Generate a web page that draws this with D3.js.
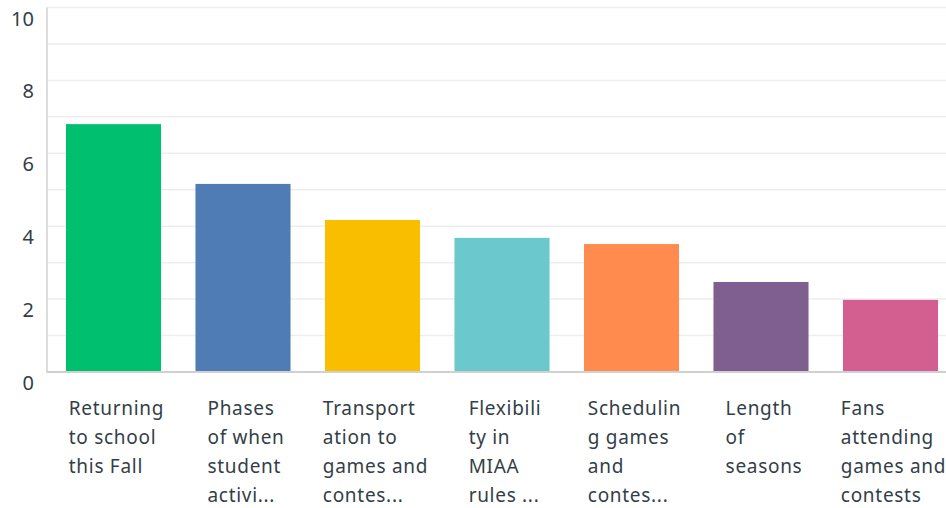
<!DOCTYPE html>
<html>
<head>
<meta charset="utf-8">
<script src="https://cdn.jsdelivr.net/npm/d3@7"></script>
<style>
  body { margin: 0; background: #fff; }
  svg text { font-family: "Noto Sans", "Open Sans", sans-serif; fill: #333e48; }
</style>
</head>
<body>
<svg id="chart" width="946" height="508"></svg>
<script>
// answer choices, in chart order
const categories = [
    'Returning to school this Fall',
    'Phases of when student activities',
    'Transportation to games and contests',
    'Flexibility in MIAA rules',
    'Scheduling games and contests',
    'Length of seasons',
    'Fans attending games and contests'
];
// wrapped + truncated the way the survey tool shows them
const labelLines = [
    ['Returning', 'to school', 'this Fall'],
    ['Phases', 'of when', 'student', 'activi...'],
    ['Transport', 'ation to', 'games and', 'contes...'],
    ['Flexibili', 'ty in', 'MIAA', 'rules ...'],
    ['Schedulin', 'g games', 'and', 'contes...'],
    ['Length', 'of', 'seasons'],
    ['Fans', 'attending', 'games and', 'contests']
];
const scores = [6.80, 5.16, 4.17, 3.68, 3.51, 2.47, 1.98];
const colors = ['#00bf6f', '#507cb6', '#f9be00', '#6bc8cd', '#ff8b4f', '#7f5f90', '#d25f90'];
const yTicks = [0, 2, 4, 6, 8, 10];

const width = 946;
const svg = d3.select('#chart');

const x = d3.scaleBand()
    .domain(categories)
    .range([48.75, 955.25])
    .paddingInner(0.266)
    .paddingOuter(0.133);

const y = d3.scaleLinear()
    .domain([0, 10])
    .range([372, 7.5]);

// gridlines, one per unit
svg.append('g')
    .selectAll('line')
    .data(d3.range(1, 11))
    .enter()
    .append('line')
    .attr('x1', 47)
    .attr('x2', width)
    .attr('y1', d => y(d))
    .attr('y2', d => y(d))
    .attr('stroke', '#ededed')
    .attr('stroke-width', 1.5);

// bars
svg.append('g')
    .selectAll('rect')
    .data(scores)
    .enter()
    .append('rect')
    .attr('x', (d, i) => x(categories[i]))
    .attr('width', x.bandwidth())
    .attr('y', d => y(d))
    .attr('height', d => y(0) - y(d))
    .attr('fill', (d, i) => colors[i]);

// axis lines
svg.append('line')
    .attr('x1', 47).attr('x2', 47)
    .attr('y1', y(10)).attr('y2', y(0) + 1)
    .attr('stroke', '#dcdcdc')
    .attr('stroke-width', 2);
svg.append('line')
    .attr('x1', 47).attr('x2', width)
    .attr('y1', y(0)).attr('y2', y(0))
    .attr('stroke', '#d0d0d0')
    .attr('stroke-width', 2);

// y tick labels sit a little below their gridline
svg.append('g')
    .selectAll('text')
    .data(yTicks)
    .enter()
    .append('text')
    .attr('x', 34)
    .attr('y', d => y(d) + 18)
    .attr('text-anchor', 'end')
    .style('font-size', '20px')
    .text(d => d);

// x labels: left aligned block, block centred under its bar
const xl = svg.append('g')
    .selectAll('text')
    .data(categories)
    .enter()
    .append('text')
    .attr('y', 415)
    .style('font-size', '19px')
    .style('letter-spacing', '0.7px');

xl.selectAll('tspan')
    .data((d, i) => labelLines[i])
    .enter()
    .append('tspan')
    .attr('dy', (d, i) => i === 0 ? 0 : 29)
    .text(d => d);

xl.each(function(d) {
    const spans = d3.select(this).selectAll('tspan');
    let maxW = 0;
    spans.each(function() { maxW = Math.max(maxW, this.getComputedTextLength()); });
    const left = x(d) + x.bandwidth() / 2 + 3 - maxW / 2;
    spans.attr('x', left);
});
</script>
</body>
</html>
